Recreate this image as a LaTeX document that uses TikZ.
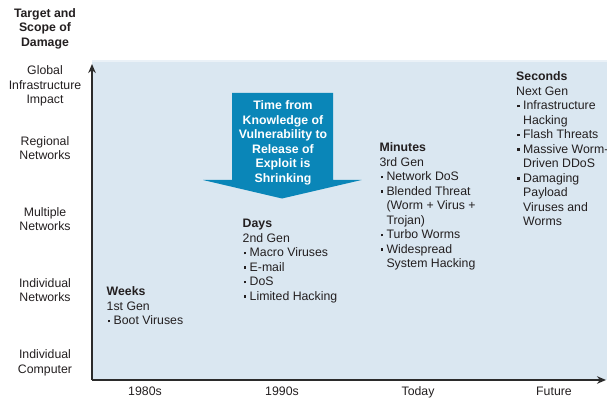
\documentclass[tikz,border=0pt]{standalone}
\usepackage{fontspec}
\setmainfont{Liberation Sans}
\usetikzlibrary{arrows.meta}
\definecolor{bgblue}{HTML}{DAE7F1}
\definecolor{bgtop}{HTML}{EAF1F7}
\definecolor{arrowblue}{HTML}{0A86B8}
\definecolor{txt}{HTML}{231F20}
\definecolor{axiscol}{HTML}{2B2B2B}
\newcommand\bul{\makebox[7pt][l]{\hspace{1pt}\raisebox{2.3pt}{\rule{2.6pt}{2.6pt}}}}
\newcommand\cont{\hspace*{7pt}}
\begin{document}
\begin{tikzpicture}[x=1pt,y=-1pt,
  lbl/.style={font=\fontsize{12.3}{14.5}\selectfont, text=txt, align=center, anchor=north, inner sep=0pt},
  blk/.style={font=\fontsize{12.3}{14.5}\selectfont, text=txt, align=left, anchor=north west, inner sep=0pt},
  axisline/.style={draw=axiscol, line width=1.5pt, -{Stealth[length=9pt,width=7.5pt]}}]
\useasboundingbox (0,0) rectangle (607,398);
% background panel
\fill[bgblue] (92,60) rectangle (607,380);
\fill[bgtop] (92,60.5) rectangle (607,62.5);
% axes
\coordinate (origin) at (92,380);
\coordinate (ytip) at (92,64);
\coordinate (xtip) at (606,380);
\draw[axisline] (origin) -- (ytip);
\draw[axisline] (origin) -- (xtip);
% shrinking arrow
\fill[arrowblue] (232,93) -- (333,93) -- (333,180) -- (361.5,180) -- (282,198.5)
  -- (203,180) -- (232,180) -- cycle;
\node[lbl, text=white, font=\fontsize{12.3}{14.5}\selectfont\bfseries, anchor=center] (shrink) at (283,143)
  {Time from\\Knowledge of\\Vulnerability to\\Release of\\Exploit is\\Shrinking};
% y labels
\node[lbl, font=\fontsize{12.3}{14.5}\selectfont\bfseries] (ytitle) at (45,8) {Target and\\Scope of\\Damage};
\node[lbl] (global) at (45,65.5) {Global\\Infrastructure\\Impact};
\node[lbl] (regional) at (45,136) {Regional\\Networks};
\node[lbl] (multiple) at (45,207) {Multiple\\Networks};
\node[lbl] (indnet) at (45,278) {Individual\\Networks};
\node[lbl] (indcomp) at (45,349.5) {Individual\\Computer};
% x labels
\node[lbl] (x1980) at (145,386.5) {1980s};
\node[lbl] (x1990) at (282,386.5) {1990s};
\node[lbl] (xtoday) at (418,386.5) {Today};
\node[lbl] (xfuture) at (554,386.5) {Future};
% blocks
\node[blk] (weeks) at (106.5,286.5) {\textbf{Weeks}\\1st Gen\\\bul Boot Viruses};
\node[blk] (days) at (242.5,219) {\textbf{Days}\\2nd Gen\\\bul Macro Viruses\\\bul E-mail\\\bul DoS\\\bul Limited Hacking};
\node[blk] (minutes) at (379.3,142.5) {\textbf{Minutes}\\3rd Gen\\\bul Network DoS\\\bul Blended Threat\\\cont(Worm + Virus +\\\cont Trojan)\\\bul Turbo Worms\\\bul Widespread\\\cont System Hacking};
\node[blk] (seconds) at (516,71.5) {\textbf{Seconds}\\Next Gen\\\bul Infrastructure\\\cont Hacking\\\bul Flash Threats\\\bul Massive Worm-\\\cont Driven DDoS\\\bul Damaging\\\cont Payload\\\cont Viruses and\\\cont Worms};
\end{tikzpicture}
\end{document}
